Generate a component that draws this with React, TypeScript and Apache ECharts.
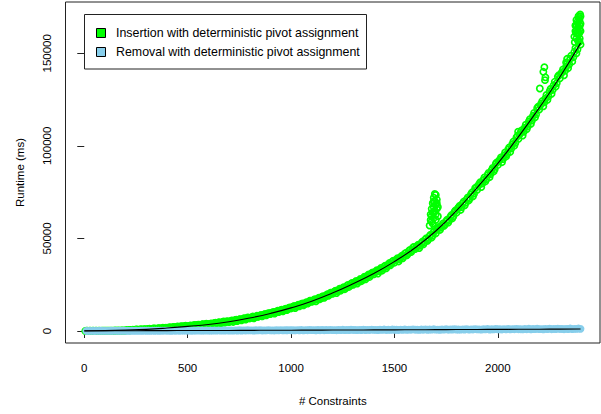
import React, { useEffect, useRef } from "react";
import * as echarts from "echarts";

// x grid of the measured runs (# constraints), every 10 from 10 to 2400
const constraintStep = 10;
const runCount = 240;

// Insertion runtimes (thousands of ms), one per run
const insertionRuntimeK = [
  0.1, 0.0, 0.1, 0.1, 0.0, 0.1, 0.1, 0.0, 0.1, 0.1,
  0.2, 0.1, 0.2, 0.1, 0.3, 0.2, 0.1, 0.3, 0.2, 0.3,
  0.5, 0.3, 0.6, 0.5, 0.8, 0.6, 0.8, 0.5, 1.0, 0.7,
  1.1, 0.8, 1.2, 1.4, 1.0, 1.5, 1.2, 1.7, 1.3, 1.6,
  1.9, 1.5, 2.1, 1.8, 2.4, 2.0, 2.6, 2.2, 2.8, 2.4,
  2.9, 2.4, 3.1, 2.7, 3.4, 3.0, 3.6, 3.2, 3.9, 3.4,
  3.9, 3.4, 4.3, 3.9, 4.7, 4.2, 5.0, 4.5, 5.3, 4.8,
  5.5, 4.9, 5.9, 5.4, 6.3, 5.8, 6.7, 6.2, 7.3, 6.8,
  7.5, 6.9, 7.9, 7.6, 8.4, 7.9, 8.9, 8.5, 9.6, 9.2,
  10.0, 9.4, 10.6, 10.2, 11.2, 10.6, 11.8, 11.3, 12.6, 12.2,
  13.1, 12.4, 13.7, 13.3, 14.6, 13.9, 15.2, 14.8, 16.3, 15.8,
  16.8, 16.0, 17.5, 17.2, 18.5, 17.9, 19.3, 19.0, 20.6, 20.1,
  21.3, 20.5, 22.1, 21.8, 23.3, 22.6, 24.4, 23.8, 25.6, 25.0,
  26.4, 25.6, 27.3, 26.9, 28.6, 27.9, 29.8, 29.2, 31.2, 30.6,
  32.1, 31.0, 33.2, 32.6, 34.7, 33.9, 36.0, 35.5, 37.6, 36.9,
  38.6, 37.6, 39.9, 39.3, 41.8, 40.9, 43.3, 42.6, 45.2, 44.3,
  45.9, 44.8, 47.5, 46.8, 49.6, 48.7, 51.3, 50.5, 53.6, 52.8,
  55.4, 54.6, 57.0, 56.8, 59.3, 58.6, 61.6, 60.9, 64.3, 63.9,
  66.8, 65.4, 68.9, 67.9, 71.2, 70.6, 73.9, 72.8, 77.1, 76.3,
  79.4, 77.8, 81.6, 80.9, 84.3, 83.1, 86.9, 86.2, 90.4, 89.7,
  92.6, 91.2, 94.9, 94.3, 98.1, 96.8, 100.9, 100.2, 104.6, 103.8,
  107.3, 105.6, 109.8, 109.1, 113.2, 111.9, 116.2, 115.4, 120.3, 119.6,
  122.9, 121.4, 125.6, 124.9, 129.4, 128.1, 132.8, 132.0, 137.4, 136.5,
  139.8, 138.1, 142.7, 142.0, 147.1, 145.6, 150.8, 150.0, 155.9, 154.7,
];

// Second pass of insertion runs (thousands of ms), at 5, 15, ..., 2395
const insertionRuntime2K = [
  0.0, 0.1, 0.1, 0.0, 0.1, 0.1, 0.0, 0.1, 0.1, 0.1,
  0.1, 0.2, 0.1, 0.2, 0.1, 0.2, 0.3, 0.2, 0.3, 0.3,
  0.4, 0.6, 0.5, 0.7, 0.5, 0.8, 0.7, 0.9, 0.8, 0.9,
  0.9, 1.2, 1.0, 1.3, 1.2, 1.4, 1.5, 1.3, 1.6, 1.7,
  1.7, 2.0, 1.9, 2.2, 2.1, 2.3, 2.5, 2.4, 2.7, 2.6,
  2.6, 3.0, 2.9, 3.3, 3.1, 3.4, 3.3, 3.7, 3.5, 3.8,
  3.7, 4.1, 3.9, 4.5, 4.3, 4.6, 4.4, 5.1, 4.9, 5.2,
  5.2, 5.7, 5.5, 6.1, 5.9, 6.4, 6.3, 6.9, 6.6, 7.1,
  7.2, 7.8, 7.5, 8.2, 8.0, 8.7, 8.4, 9.2, 9.0, 9.6,
  9.7, 10.3, 10.0, 10.9, 10.7, 11.5, 11.1, 12.0, 11.8, 12.7,
  12.8, 13.5, 13.2, 14.2, 14.0, 14.9, 14.6, 15.6, 15.3, 16.4,
  16.4, 17.2, 17.0, 18.0, 17.8, 18.8, 18.6, 19.8, 19.5, 20.7,
  20.9, 21.8, 21.5, 22.8, 22.5, 23.7, 23.4, 24.9, 24.5, 25.9,
  26.0, 27.0, 26.6, 28.1, 27.7, 29.3, 28.9, 30.5, 30.2, 31.6,
  31.6, 32.8, 32.4, 34.1, 33.6, 35.3, 35.0, 36.7, 36.3, 38.0,
  38.1, 39.3, 38.8, 40.6, 40.3, 42.1, 41.7, 43.8, 43.4, 45.4,
  45.3, 46.6, 46.0, 48.3, 47.9, 50.1, 49.7, 52.0, 51.6, 54.0,
  54.9, 56.2, 55.8, 58.1, 57.6, 60.1, 59.8, 62.6, 62.0, 65.1,
  65.9, 67.6, 67.0, 69.9, 69.3, 72.1, 71.7, 74.9, 74.2, 77.6,
  78.5, 80.4, 79.7, 82.9, 82.1, 85.4, 84.8, 88.1, 87.4, 91.0,
  91.8, 93.7, 92.9, 96.4, 95.6, 99.1, 98.6, 102.3, 101.7, 105.4,
  106.2, 108.4, 107.6, 111.4, 110.6, 114.4, 113.7, 117.8, 117.0, 121.1,
  121.9, 124.2, 123.5, 127.5, 126.8, 130.8, 130.2, 134.6, 133.9, 138.2,
  138.9, 141.3, 140.6, 144.8, 144.1, 148.7, 147.9, 152.8, 152.1, 156.3,
];

// Extra insertion runs off the main band (bump near 1700, cluster near 2400, outliers)
const insertionExtraX = [
  1670, 1675, 1680, 1680, 1685, 1685, 1690, 1690, 1690, 1695, 1695, 1700, 1700, 1700, 1705, 1705, 1710, 1710, 1680, 1695,
  1675, 1685, 1690, 1700, 1705, 1692,
  2370, 2375, 2380, 2380, 2385, 2385, 2390, 2390, 2395, 2395, 2400, 2400, 2398,
  2372, 2378, 2388, 2392, 2396, 2400, 2375, 2382, 2387, 2393, 2397, 2380, 2390,
  2203, 2220, 2225, 2230, 2228, 2330, 2335, 2098,
];
const insertionExtraK = [
  57, 60, 62, 66, 64, 69, 61, 67, 72, 65, 70, 63, 68, 73.5, 66, 71, 62, 67, 59, 74,
  63, 58, 70, 60, 69, 64,
  159, 162, 158, 165, 161, 167, 160, 164, 163, 168, 166, 170, 171,
  156, 161, 157, 169, 158, 162, 165, 163, 166, 161, 165, 168, 170,
  131, 140, 142.5, 137, 135.5, 145, 147, 107.6,
];

// Removal runtimes (ms), one per run
const removalRuntime = [
  20, 60, 40, 90, 30, 70, 50, 110, 60, 80,
  90, 60, 120, 80, 140, 70, 110, 90, 150, 100,
  110, 80, 150, 100, 170, 90, 140, 120, 180, 130,
  140, 100, 180, 130, 200, 120, 170, 150, 220, 160,
  170, 130, 210, 160, 240, 150, 200, 180, 260, 190,
  200, 160, 250, 190, 280, 180, 240, 210, 300, 230,
  240, 190, 290, 230, 330, 210, 280, 250, 350, 270,
  280, 220, 330, 270, 380, 250, 320, 290, 400, 310,
  320, 260, 380, 310, 430, 290, 370, 330, 450, 350,
  360, 300, 420, 350, 480, 330, 410, 380, 500, 400,
  410, 340, 470, 400, 540, 370, 460, 420, 560, 450,
  450, 380, 520, 440, 600, 420, 510, 470, 620, 500,
  500, 430, 570, 490, 660, 460, 560, 520, 680, 550,
  550, 470, 620, 540, 720, 510, 610, 570, 740, 600,
  600, 520, 680, 590, 780, 560, 670, 620, 800, 650,
  650, 570, 730, 640, 840, 610, 720, 680, 860, 700,
  700, 620, 790, 690, 900, 660, 780, 730, 920, 760,
  760, 670, 840, 740, 960, 710, 830, 790, 980, 810,
  810, 720, 900, 790, 1020, 760, 890, 840, 1040, 870,
  870, 770, 950, 850, 1080, 810, 940, 900, 1100, 920,
  920, 820, 1010, 900, 1140, 860, 1000, 950, 1160, 980,
  980, 870, 1060, 960, 1200, 920, 1050, 1010, 1220, 1030,
  1030, 920, 1120, 1010, 1260, 970, 1110, 1060, 1280, 1090,
  1090, 980, 1170, 1070, 1320, 1030, 1160, 1120, 1340, 1150,
];

// Fitted curves (ms)
const fitConstraints = [0, 100, 200, 300, 400, 500, 600, 700, 800, 900, 1000, 1100, 1200, 1300, 1400, 1500, 1600, 1700, 1800, 1900, 2000, 2100, 2200, 2300, 2400];
const insertionFit = [0, 200, 500, 900, 1600, 2500, 3500, 5000, 7000, 9500, 12500, 16100, 20500, 25500, 31000, 37500, 45000, 54000, 65000, 77500, 90500, 105000, 120500, 137200, 155500];
const removalFit = [100, 130, 160, 190, 220, 250, 280, 310, 350, 390, 430, 470, 510, 550, 590, 630, 680, 730, 780, 830, 880, 930, 980, 1030, 1080];

const xTicks = [0, 500, 1000, 1500, 2000];
const yTicks = [0, 50000, 100000, 150000];
const legendLabels = ["Insertion with deterministic pivot assignment", "Removal with deterministic pivot assignment"];

const GREEN = "#00ff00";
const SKY = "#87ceeb";
const FONT = '"Liberation Sans", Arial, Helvetica, sans-serif';

export default function App() {
  const ref = useRef<HTMLDivElement>(null);
  useEffect(() => {
    if (!ref.current) return;
    const chart = echarts.init(ref.current, null, { renderer: "svg" });
    const xs = Array.from({ length: runCount }, (_, i) => (i + 1) * constraintStep);
    const insertionPts: number[][] = [];
    xs.forEach((x, i) => {
      insertionPts.push([x - constraintStep / 2, insertionRuntime2K[i] * 1000]);
      insertionPts.push([x, insertionRuntimeK[i] * 1000]);
    });
    insertionExtraX.forEach((x, i) => insertionPts.push([x, insertionExtraK[i] * 1000]));
    const removalPts = xs.map((x, i) => [x, removalRuntime[i]]);
    const insFit = fitConstraints.map((x, i) => [x, insertionFit[i]]);
    const remFit = fitConstraints.map((x, i) => [x, removalFit[i]]);
    const plain = (v: number) => String(v);

    chart.setOption({
      animation: false,
      backgroundColor: "#fff",
      grid: { left: 65.5, right: 1, top: 2, bottom: 71, show: true, borderColor: "#222", borderWidth: 1, backgroundColor: "transparent" },
      xAxis: {
        type: "value",
        min: -90.8,
        max: 2494,
        name: "# Constraints",
        nameLocation: "middle",
        nameGap: 52,
        nameTextStyle: { color: "#000", fontSize: 11.5, fontFamily: FONT },
        axisLine: { show: false },
        splitLine: { show: false },
        axisTick: { show: true, customValues: xTicks, length: 7, lineStyle: { color: "#222" } },
        axisLabel: { customValues: xTicks, formatter: plain, color: "#000", fontSize: 11.5, fontFamily: FONT, margin: 19 },
      },
      yAxis: {
        type: "value",
        min: -6480,
        max: 177700,
        name: "Runtime (ms)",
        nameLocation: "middle",
        nameRotate: 90,
        nameGap: 40,
        nameTextStyle: { color: "#000", fontSize: 11.5, fontFamily: FONT },
        axisLine: { show: false },
        splitLine: { show: false },
        axisTick: { show: true, customValues: yTicks, length: 7, lineStyle: { color: "#222" } },
        axisLabel: { customValues: yTicks, formatter: plain, color: "#000", fontSize: 11.5, fontFamily: FONT, rotate: 90, margin: 13 },
      },
      series: [
        {
          type: "scatter",
          data: insertionPts,
          symbol: "circle",
          symbolSize: 6.2,
          silent: true,
          itemStyle: { color: "rgba(0,0,0,0)", borderColor: GREEN, borderWidth: 1.7, opacity: 1 },
        },
        {
          type: "scatter",
          data: removalPts,
          symbol: "circle",
          symbolSize: 7.8,
          silent: true,
          itemStyle: { color: SKY, opacity: 1 },
        },
        {
          type: "line",
          data: insFit,
          smooth: true,
          showSymbol: false,
          silent: true,
          lineStyle: { color: "#000", width: 1.1 },
        },
        {
          type: "line",
          data: remFit,
          smooth: true,
          showSymbol: false,
          silent: true,
          lineStyle: { color: "#000", width: 1.1 },
        },
      ],
      graphic: [
        { type: "rect", shape: { x: 84.5, y: 14.5, width: 282, height: 54.5 }, style: { fill: "#fff", stroke: "#222", lineWidth: 1 }, z: 100 },
        { type: "rect", shape: { x: 96.5, y: 28.5, width: 9, height: 9 }, style: { fill: GREEN, stroke: "#000", lineWidth: 1 }, z: 101 },
        { type: "rect", shape: { x: 96.5, y: 47.5, width: 9, height: 9 }, style: { fill: SKY, stroke: "#000", lineWidth: 1 }, z: 101 },
        { type: "text", x: 116, y: 33, style: { text: legendLabels[0], fill: "#000", font: `12.4px ${FONT}`, verticalAlign: "middle" }, z: 101 },
        { type: "text", x: 116, y: 52, style: { text: legendLabels[1], fill: "#000", font: `12.4px ${FONT}`, verticalAlign: "middle" }, z: 101 },
      ],
    });
    return () => chart.dispose();
  }, []);
  return <div ref={ref} style={{ position: "fixed", left: 0, top: 0, width: 601, height: 414 }} />;
}
